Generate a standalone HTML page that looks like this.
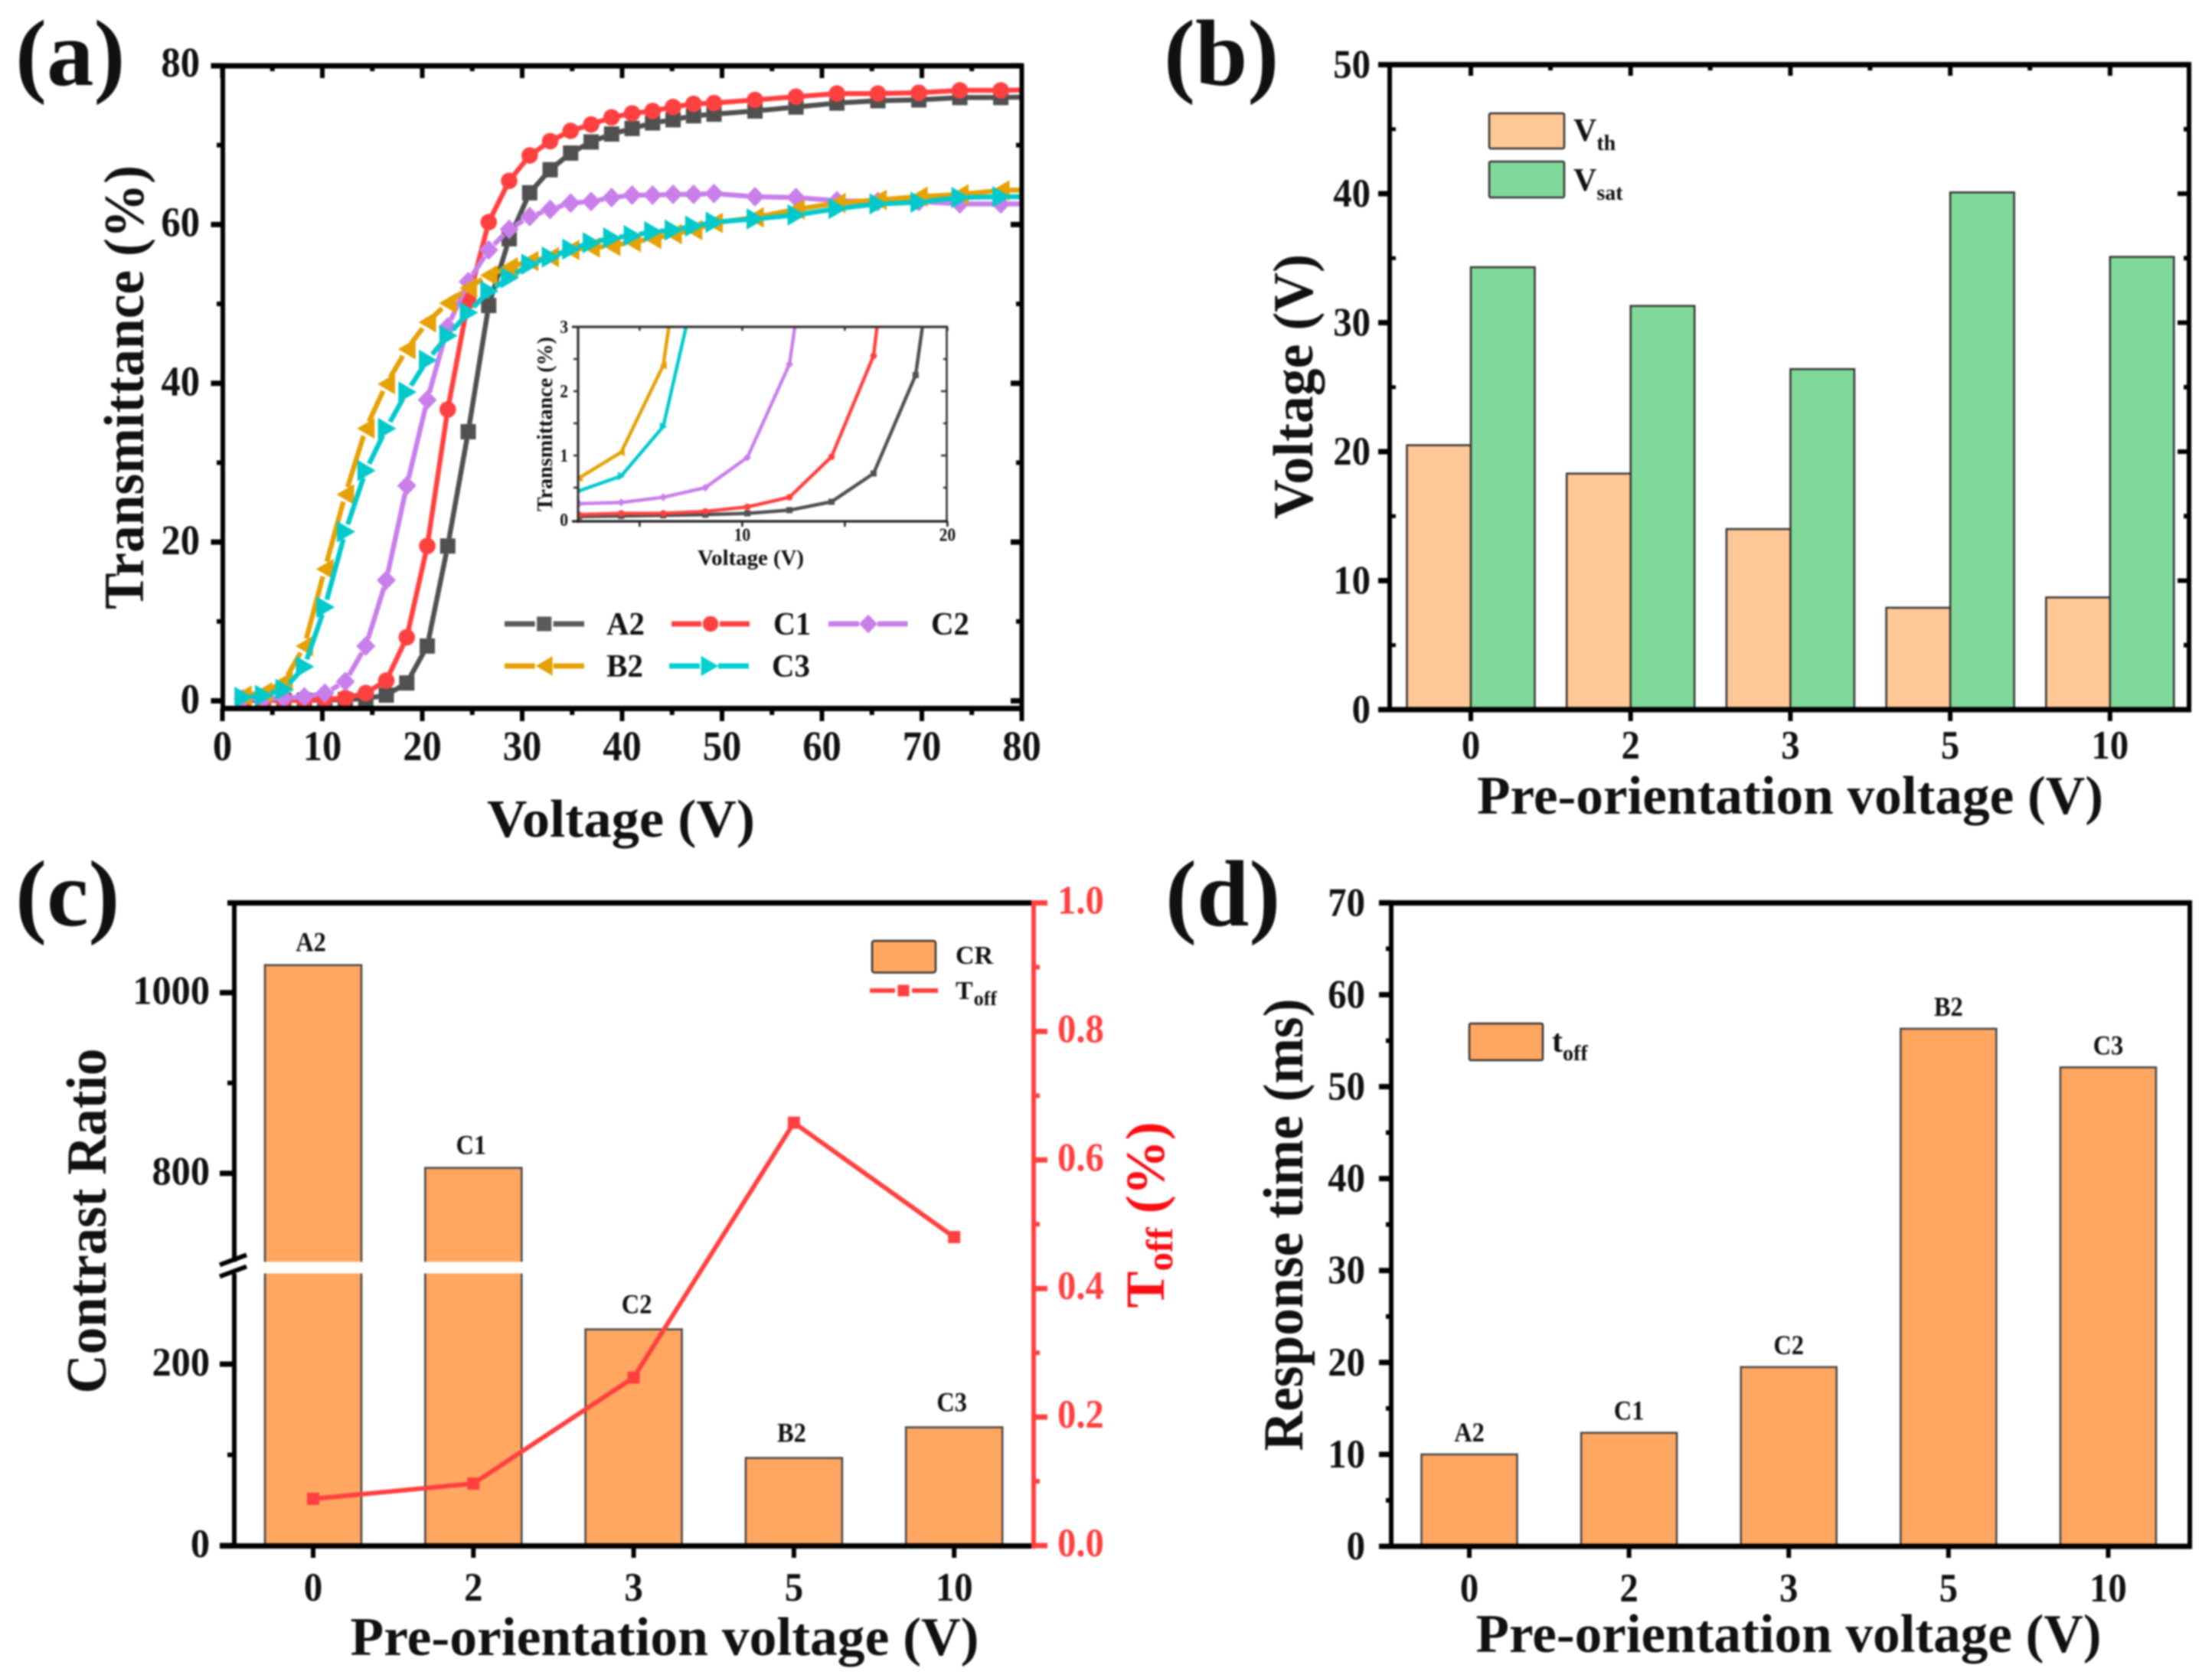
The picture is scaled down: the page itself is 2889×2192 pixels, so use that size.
<!DOCTYPE html>
<html lang="en">
<head>
<meta charset="utf-8">
<title>Pre-orientation voltage electro-optical results</title>
<style>
html,body{margin:0;padding:0;background:#fff;}
svg{display:block;filter:blur(1px);}
text{font-family:"Liberation Serif","Times New Roman",serif;font-weight:bold;fill:#111;}
</style>
</head>
<body>
<svg id="fig" xmlns="http://www.w3.org/2000/svg" width="2889" height="2192" viewBox="0 0 2889 2192">
<rect width="2889" height="2192" fill="#fff"/>
<defs>
<clipPath id="clip-a"><rect x="290" y="84" width="1046" height="842"/></clipPath>
<clipPath id="clip-inset"><rect x="755" y="427" width="482" height="254"/></clipPath>
</defs>

<g id="panel-a">
<text x="20" y="111" font-size="123">(a)</text>
<text transform="translate(187,506) rotate(-90)" text-anchor="middle" font-size="74" textLength="580" lengthAdjust="spacingAndGlyphs">Transmittance (%)</text>
<text x="811" y="1093" text-anchor="middle" font-size="70" textLength="350" lengthAdjust="spacingAndGlyphs">Voltage (V)</text>
<text transform="translate(721,554) rotate(-90)" text-anchor="middle" font-size="29" textLength="228" lengthAdjust="spacingAndGlyphs">Transmittance (%)</text>
<text x="980.5" y="738" text-anchor="middle" font-size="29" textLength="139" lengthAdjust="spacingAndGlyphs">Voltage (V)</text>
<text x="792" y="829" font-size="42" textLength="50" lengthAdjust="spacingAndGlyphs">A2</text>
<text x="1010" y="829" font-size="42" textLength="49" lengthAdjust="spacingAndGlyphs">C1</text>
<text x="1216" y="829" font-size="42" textLength="50" lengthAdjust="spacingAndGlyphs">C2</text>
<text x="792" y="884" font-size="42" textLength="48" lengthAdjust="spacingAndGlyphs">B2</text>
<text x="1008" y="884" font-size="42" textLength="50" lengthAdjust="spacingAndGlyphs">C3</text>
</g>

<g id="panel-b">
<text x="1520" y="111" font-size="123">(b)</text>
<text transform="translate(1714,505) rotate(-90)" text-anchor="middle" font-size="74" textLength="346" lengthAdjust="spacingAndGlyphs">Voltage (V)</text>
<text x="2338" y="1063" text-anchor="middle" font-size="71" textLength="818" lengthAdjust="spacingAndGlyphs">Pre-orientation voltage (V)</text>
<rect x="1945" y="148" width="98" height="46" rx="2" fill="#FFC896" stroke="#333" stroke-width="2.5"/>
<rect x="1945" y="211" width="98" height="47" rx="2" fill="#80D99A" stroke="#333" stroke-width="2.5"/>
<text x="2055" y="184" font-size="42">V<tspan font-size="28" dy="12">th</tspan></text>
<text x="2055" y="249" font-size="42">V<tspan font-size="28" dy="12">sat</tspan></text>
</g>

<g id="panel-c">
<text x="20" y="1209" font-size="123">(c)</text>
<text transform="translate(138,1595) rotate(-90)" text-anchor="middle" font-size="74" textLength="451" lengthAdjust="spacingAndGlyphs">Contrast Ratio</text>
<text transform="translate(1520,1587) rotate(-90)" text-anchor="middle" font-size="72" style="fill:#FA0F14">T<tspan font-size="49" dy="11">off</tspan><tspan dy="-11"> (%)</tspan></text>
<text x="868" y="2162" text-anchor="middle" font-size="71" textLength="821" lengthAdjust="spacingAndGlyphs">Pre-orientation voltage (V)</text>
<rect x="1139" y="1229" width="83" height="41.5" rx="3" fill="#FFA661" stroke="#333" stroke-width="2.5"/>
<text x="1248" y="1259" font-size="34">CR</text>
<text x="1248" y="1305" font-size="34">T<tspan font-size="26" dy="8" dx="1">off</tspan></text>
</g>

<g id="panel-d">
<text x="1522" y="1209" font-size="123">(d)</text>
<text transform="translate(1701,1600) rotate(-90)" text-anchor="middle" font-size="74" textLength="591" lengthAdjust="spacingAndGlyphs">Response time (ms)</text>
<text x="2336" y="2158" text-anchor="middle" font-size="71" textLength="817" lengthAdjust="spacingAndGlyphs">Pre-orientation voltage (V)</text>
<rect x="1919" y="1337" width="96" height="48" rx="2" fill="#FFA661" stroke="#333" stroke-width="2.5"/>
<text x="2027" y="1374" font-size="42">t<tspan font-size="28" dy="11">off</tspan></text>
</g>
</svg>

<script>
// ---------- data: panel (a) ----------
const voltage = [2.05,4.1,6.15,8.2,10.25,12.3,14.35,16.4,18.45,20.5,22.55,24.6,26.65,28.7,30.75,32.8,34.85,36.9,38.95,41,43.05,45.1,47.15,49.2,53.3,57.4,61.5,65.6,69.7,73.8,77.9,82];
const seriesA2 = [0.05,0.06,0.07,0.08,0.1,0.15,0.28,0.72,2.25,6.9,19.5,33.9,49.8,58.2,64,66.9,69,70.4,71.4,72.1,72.8,73.2,73.7,73.9,74.3,74.8,75.3,75.6,75.7,76,76,76.1];
const seriesC1 = [0.08,0.1,0.1,0.13,0.2,0.35,0.98,2.55,8,19.5,36.7,50.4,60.3,65.5,68.7,70.5,71.8,72.6,73.5,74,74.3,74.8,75.2,75.3,75.7,76.1,76.5,76.5,76.6,76.9,76.9,77];
const seriesC2 = [0.25,0.27,0.35,0.5,0.97,2.42,6.9,15.2,27.1,37.9,47.1,52.8,56.8,59.4,61,61.9,62.7,62.9,63.4,63.7,63.7,63.8,63.8,63.9,63.5,63.4,63,62.9,62.9,62.6,62.6,62.6];
const seriesB2 = [0.65,1.05,2.4,6.9,16.6,26,34.3,39.9,44.3,47.7,50.1,52,53.6,54.6,55.4,55.9,56.8,57.1,57.3,57.8,58.2,58.8,59.3,60.2,60.9,61.9,62.7,63.1,63.5,63.8,64.3,64.4];
const seriesC3 = [0.45,0.68,1.45,4.3,11.8,21.3,29,34.3,38.9,42.9,46,48.9,51.6,53.3,55,55.9,56.9,57.7,58.3,58.6,59.1,59.3,59.8,60.3,60.7,61.2,62,62.6,62.8,63.4,63.5,63.5];
const ticksAX = [0,10,20,30,40,50,60,70,80];
const ticksAY = [0,20,40,60,80];
const insetTicksX = [10,20];
const insetTicksY = [0,1,2,3];
// ---------- data: bar panels ----------
const preVoltages = ["0","2","3","5","10"];
const vth = [20.5,18.3,14,7.9,8.7];
const vsat = [34.3,31.3,26.4,40.1,35.1];
const ticksBY = [0,10,20,30,40,50];
const sampleNames = ["A2","C1","C2","B2","C3"];
const contrast = [1030.5,806,238.4,96.6,130.4];
const tOff = [0.0727,0.0965,0.2615,0.658,0.48];
const ticksCY = [0,200,800,1000];
const ticksCRight = ["0.0","0.2","0.4","0.6","0.8","1.0"];
const responseNames = ["A2","C1","C2","B2","C3"];
const response = [10,12.35,19.5,56.3,52.1];
const ticksDY = [0,10,20,30,40,50,60,70];

const NS = "http://www.w3.org/2000/svg";
function make(parent, tag, attrs, name, content) {
  const el = document.createElementNS(NS, tag);
  for (const k in attrs) el.setAttribute(k, attrs[k]);
  
  
  if (content !== undefined) el.textContent = content;
  parent.appendChild(el);
  return el;
}
function line(p, x1, y1, x2, y2, w, name, color) {
  return make(p, 'line', {x1, y1, x2, y2, stroke: color || '#000', 'stroke-width': w}, name);
}
function label(p, x, y, str, size, anchor, name, color, sx) {
  const t = make(p, 'text', {transform: 'translate(' + x + ',' + y + ') scale(' + (sx || 1) + ',1)', 'font-size': size, 'text-anchor': anchor}, name, str);
  if (color) t.style.fill = color;
  return t;
}
function marker(p, kind, x, y, s, color, name) {
  if (kind === 'square') return make(p, 'rect', {x: x - s, y: y - s, width: 2 * s, height: 2 * s, fill: color}, name);
  if (kind === 'circle') return make(p, 'circle', {cx: x, cy: y, r: s * 1.08, fill: color}, name);
  let pts;
  if (kind === 'diamond') pts = [[x - s * 1.25, y], [x, y - s * 1.3], [x + s * 1.25, y], [x, y + s * 1.3]];
  if (kind === 'left') pts = [[x - s * 1.15, y], [x + s * 1.15, y - s * 1.35], [x + s * 1.15, y + s * 1.35]];
  if (kind === 'right') pts = [[x + s * 1.3, y], [x - s * 1.1, y - s * 1.4], [x - s * 1.1, y + s * 1.4]];
  return make(p, 'polygon', {points: pts.map(q => q.join(',')).join(' '), fill: color}, name);
}

// ========== Panel (a) ==========
const panelA = document.getElementById('panel-a');
const xa = v => 290.5 + v * 13.05;
const ya = v => 915.5 - v * 10.37;
const xi = v => 755 + (v - 2) * 26.8;
const yi = v => 679 - v * 84;
const curves = [
  {id: 'a2', values: seriesA2, color: '#505050', kind: 'square'},
  {id: 'c1', values: seriesC1, color: '#FF4040', kind: 'circle'},
  {id: 'c2', values: seriesC2, color: '#C87FEA', kind: 'diamond'},
  {id: 'b2', values: seriesB2, color: '#E5A106', kind: 'left'},
  {id: 'c3', values: seriesC3, color: '#04C9CB', kind: 'right'}
];
const mainPlot = make(panelA, 'g', {'clip-path': 'url(#clip-a)'}, 'main-plot-area');
curves.forEach(c => {
  const g = make(mainPlot, 'g', {}, 'series-' + c.id);
  let d = '';
  for (let i = 0; i + 1 < voltage.length; i++) {
    const x0 = xa(voltage[i]), y0 = ya(c.values[i]), x1 = xa(voltage[i + 1]), y1 = ya(c.values[i + 1]);
    const len = Math.hypot(x1 - x0, y1 - y0), gap = 10;
    if (len <= gap * 2) continue;
    const ux = (x1 - x0) / len, uy = (y1 - y0) / len;
    d += 'M' + (x0 + ux * gap) + ' ' + (y0 + uy * gap) + 'L' + (x1 - ux * gap) + ' ' + (y1 - uy * gap);
  }
  make(g, 'path', {d, fill: 'none', stroke: c.color, 'stroke-width': 6.5}, 'line-' + c.id);
  voltage.forEach((v, i) => {
    marker(g, c.kind, xa(v), ya(c.values[i]), 10, c.color, 'point-' + c.id);
  });
});
// axes for (a)
line(panelA, 291, 83, 291, 929, 6, 'y-axis-line');
line(panelA, 275.5, 86, 1337, 86, 7, 'top-axis-line');
line(panelA, 1334.5, 83, 1334.5, 929, 6, 'right-axis-line');
line(panelA, 288, 925.5, 1337, 925.5, 7, 'x-axis-line');
for (let v = 0; v <= 80; v += 5) {
  const major = v % 10 === 0;
  line(panelA, xa(v), 925.5, xa(v), major ? 942 : 934, 6, 'x-tick');
  line(panelA, xa(v), 86, xa(v), major ? 102 : 93, 6, 'top-tick');
}
for (let v = 0; v <= 80; v += 10) {
  const major = v % 20 === 0;
  line(panelA, 291, ya(v), major ? 275.5 : 283, ya(v), major ? 7 : 6, 'y-tick');
  line(panelA, 1334.5, ya(v), major ? 1320 : 1327, ya(v), major ? 7 : 6, 'right-tick');
}
ticksAX.forEach(v => label(panelA, xa(v), 993, String(v), 55, 'middle', 'x-tick-label', null, 0.92));
ticksAY.forEach(v => label(panelA, 261, ya(v) + (v === 80 ? 14 : v === 60 ? 15 : 16), String(v), 55, 'end', 'y-tick-label', null, 0.92));
// inset
const insetPlot = make(panelA, 'g', {'clip-path': 'url(#clip-inset)'}, 'inset-plot-area');
curves.forEach(c => {
  const pts = voltage.map((v, i) => xi(v) + ',' + yi(c.values[i])).join(' ');
  make(insetPlot, 'polyline', {points: pts, fill: 'none', stroke: c.color, 'stroke-width': 4.5}, 'inset-line-' + c.id);
  voltage.forEach((v, i) => {
    marker(insetPlot, c.kind, xi(v), yi(c.values[i]), 4, c.color, 'inset-point-' + c.id);
  });
});
line(panelA, 755, 425.5, 755, 683, 3.2, 'inset-y-axis-line', '#333');
line(panelA, 747, 427, 1238, 427, 3.2, 'inset-top-axis-line', '#333');
line(panelA, 1236.5, 425.5, 1236.5, 683, 2.6, 'inset-right-axis-line', '#333');
line(panelA, 747, 681, 1238, 681, 3.2, 'inset-x-axis-line', '#222');
[5, 10, 15, 20].forEach(v => {
  line(panelA, xi(v), 681, xi(v), 688, 2.6, 'inset-x-tick', '#222');
  line(panelA, xi(v), 427, xi(v), 432, 2.6, 'inset-top-tick', '#333');
});
[0.5, 1, 1.5, 2, 2.5].forEach(v => {
  line(panelA, 755, yi(v), 749, yi(v), 2.6, 'inset-y-tick', '#333');
  line(panelA, 1236.5, yi(v), v % 1 === 0 ? 1229 : 1232, yi(v), 2.6, 'inset-right-tick', '#333');
});
insetTicksX.forEach(v => label(panelA, xi(v), 706.5, String(v), 24, 'middle', 'inset-x-tick-label', null, 0.9));
insetTicksY.forEach(v => label(panelA, 742, yi(v) + 8, String(v), 24, 'end', 'inset-y-tick-label', null, 0.9));
// legend (a)
const legendRows = [
  {id: 'a2', x1: 659, x2: 763, mx: 710.7, y: 815, color: '#5A5A5A', kind: 'square'},
  {id: 'c1', x1: 877, x2: 979, mx: 928, y: 815, color: '#FF4040', kind: 'circle'},
  {id: 'c2', x1: 1082, x2: 1185.5, mx: 1134, y: 815, color: '#C87FEA', kind: 'diamond'},
  {id: 'b2', x1: 659, x2: 763, mx: 710.7, y: 870, color: '#E5A106', kind: 'left'},
  {id: 'c3', x1: 874, x2: 978, mx: 926, y: 870, color: '#04D0D0', kind: 'right'}
];
legendRows.forEach(r => {
  line(panelA, r.x1, r.y, r.mx - 12, r.y, 7, 'legend-line-' + r.id, r.color);
  line(panelA, r.mx + 12, r.y, r.x2, r.y, 7, 'legend-line-' + r.id, r.color);
  marker(panelA, r.kind, r.mx, r.y, 9.5, r.color, 'legend-marker-' + r.id);
});

// ========== Panel (b) ==========
const panelB = document.getElementById('panel-b');
const yb = v => 927 - v * 16.85;
const cxB = i => 1921 + i * 208.7;
const bwB = 83.5;
vth.forEach((v, i) => {
  make(panelB, 'rect', {x: cxB(i) - bwB, y: yb(v), width: bwB, height: yb(0) - yb(v), fill: '#FFC896', stroke: '#333', 'stroke-width': 2.5}, 'bar-vth-' + preVoltages[i]);
});
vsat.forEach((v, i) => {
  make(panelB, 'rect', {x: cxB(i), y: yb(v), width: bwB, height: yb(0) - yb(v), fill: '#80D99A', stroke: '#333', 'stroke-width': 2.5}, 'bar-vsat-' + preVoltages[i]);
});
line(panelB, 1815, 81, 1815, 930, 6, 'y-axis-line');
line(panelB, 1800, 84.5, 2862, 84.5, 7, 'top-axis-line');
line(panelB, 2859, 81, 2859, 930, 6, 'right-axis-line');
line(panelB, 1800, 927, 2862, 927, 7, 'x-axis-line');
for (let v = 0; v <= 50; v += 5) {
  const major = v % 10 === 0;
  line(panelB, 1815, yb(v), major ? 1800 : 1815, yb(v), 7, 'y-tick');
  line(panelB, 1818, yb(v), major ? 1818 : 1823, yb(v), 5, 'y-minor-tick');
  line(panelB, 2859, yb(v), major ? 2844 : 2852, yb(v), 6, 'right-tick');
}
preVoltages.forEach((s, i) => {
  line(panelB, cxB(i), 927, cxB(i), 942, 6, 'x-tick');
  line(panelB, cxB(i), 84.5, cxB(i), 99, 6, 'top-tick');
  if (i < 4) line(panelB, cxB(i) + 104, 84.5, cxB(i) + 104, 92, 6, 'top-minor-tick');
  label(panelB, cxB(i), 991, s, 53, 'middle', 'x-tick-label', null, 0.92);
});
ticksBY.forEach(v => label(panelB, 1790, yb(v) + 17, String(v), 53, 'end', 'y-tick-label', null, 0.92));

// ========== Panel (c) ==========
const panelC = document.getElementById('panel-c');
const BREAK_LOW = 300, BREAK_HIGH = 702;
const yc = v => v <= BREAK_LOW ? 2019 - v * 1.185 : 1296.7 + (1000 - v) * 1.18;
const yr = v => 2019 - v * 839.5;
const cxC = i => 409 + i * 209.3;
const bwC = 126;
const gapTop = yc(BREAK_HIGH), gapBottom = yc(BREAK_LOW);
contrast.forEach((v, i) => {
  make(panelC, 'rect', {x: cxC(i) - bwC / 2, y: yc(v), width: bwC, height: 2019 - yc(v), fill: '#FFA661', stroke: '#444', 'stroke-width': 2.5}, 'bar-cr-' + sampleNames[i]);
  if (v > BREAK_LOW) make(panelC, 'rect', {x: cxC(i) - bwC / 2 - 3, y: gapTop, width: bwC + 6, height: gapBottom - gapTop, fill: '#fff'}, 'axis-break-band');
  label(panelC, cxC(i) + (i === 2 ? 4 : -3), yc(v) - (v > BREAK_LOW ? 18 : 21), sampleNames[i], 36, 'middle', 'bar-label-' + sampleNames[i], null, 0.9);
});
line(panelC, 306, 1178, 306, gapTop, 6, 'y-axis-line-upper');
line(panelC, 306, gapBottom, 306, 2023, 6, 'y-axis-line-lower');
line(panelC, 287, gapTop + 4, 322, gapTop - 9, 6, 'axis-break-mark-upper');
line(panelC, 287, gapBottom + 4, 322, gapBottom - 9, 6, 'axis-break-mark-lower');
line(panelC, 297, 1179.5, 1350, 1179.5, 7, 'top-axis-line');
line(panelC, 287, 2019.5, 1348, 2019.5, 7, 'x-axis-line');
ticksCY.forEach(v => {
  line(panelC, 306, yc(v), 287, yc(v), 7, 'y-tick');
  label(panelC, 274, yc(v) + 15, String(v), 53, 'end', 'y-tick-label', null, 0.95);
});
[100, 900].forEach(v => line(panelC, 306, yc(v), 297, yc(v), 6, 'y-minor-tick'));
preVoltages.forEach((s, i) => {
  line(panelC, cxC(i), 2019.5, cxC(i), 2035, 6, 'x-tick');
  label(panelC, cxC(i), 2091, s, 53, 'middle', 'x-tick-label', null, 0.92);
});
// right axis
line(panelC, 1350, 1176, 1350, 2023, 6, 'right-y-axis-line', '#FF4040');
for (let k = 0; k <= 10; k++) {
  const v = k / 10;
  line(panelC, 1350, yr(v), k % 2 === 0 ? 1368 : 1358, yr(v), k % 2 === 0 ? 7 : 6, 'right-y-tick', '#FF4040');
}
ticksCRight.forEach(s => label(panelC, 1381, yr(parseFloat(s)) + 14, s, 53, 'start', 'right-y-tick-label', '#FF4040', 0.92));
// T_off line
const toffPts = tOff.map((v, i) => cxC(i) + ',' + yr(v)).join(' ');
make(panelC, 'polyline', {points: toffPts, fill: 'none', stroke: '#FF4040', 'stroke-width': 6}, 'toff-line');
tOff.forEach((v, i) => {
  marker(panelC, 'square', cxC(i), yr(v), 8, '#FF4040', 'toff-point-' + sampleNames[i]);
});
line(panelC, 1136, 1294, 1169, 1294, 6, 'legend-toff-line', '#FF4040');
line(panelC, 1191, 1294, 1225, 1294, 6, 'legend-toff-line', '#FF4040');
marker(panelC, 'square', 1180, 1294, 7.5, '#FF4040', 'legend-toff-marker');

// ========== Panel (d) ==========
const panelD = document.getElementById('panel-d');
const yd = v => 2020 - v * 12.01;
const cxD = i => 1919 + i * 208.6;
const bwD = 125;
response.forEach((v, i) => {
  make(panelD, 'rect', {x: cxD(i) - bwD / 2, y: yd(v), width: bwD, height: 2020 - yd(v), fill: '#FFA661', stroke: '#444', 'stroke-width': 2.5}, 'bar-response-' + responseNames[i]);
  label(panelD, cxD(i), yd(v) - 17, responseNames[i], 36, 'middle', 'bar-label-' + responseNames[i], null, 0.9);
});
line(panelD, 1817, 1176, 1817, 2023, 6, 'y-axis-line');
line(panelD, 1801, 1179.5, 2863, 1179.5, 7, 'top-axis-line');
line(panelD, 2860, 1176, 2860, 2023, 6, 'right-axis-line');
line(panelD, 1801, 2020, 2863, 2020, 7, 'x-axis-line');
for (let v = 0; v <= 70; v += 5) {
  const major = v % 10 === 0;
  line(panelD, 1817, yd(v), major ? 1801 : 1810, yd(v), major ? 7 : 6, 'y-tick');
}
preVoltages.forEach((s, i) => {
  line(panelD, cxD(i), 2020, cxD(i), 2035, 6, 'x-tick');
  label(panelD, cxD(i), 2092, s, 53, 'middle', 'x-tick-label', null, 0.92);
});
ticksDY.forEach(v => label(panelD, 1783, yd(v) + 17, String(v), 53, 'end', 'y-tick-label', null, 0.92));
</script>
</body>
</html>
